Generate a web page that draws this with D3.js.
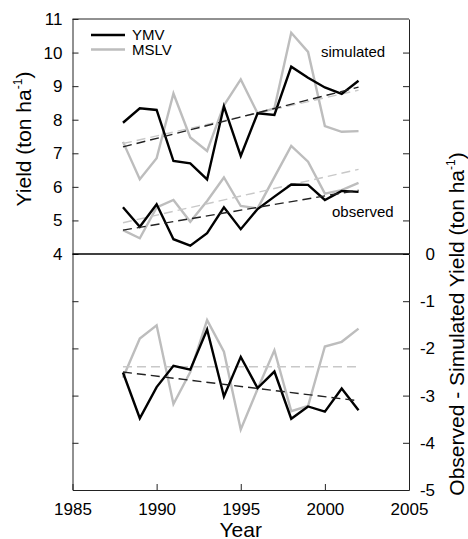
<!DOCTYPE html>
<html>
<head>
<meta charset="utf-8">
<script src="https://cdn.jsdelivr.net/npm/d3@7"></script>
<style>
  body { margin: 0; background: #fff; }
  svg text { font-family: "Liberation Sans", Arial, sans-serif; fill: #000; }
</style>
</head>
<body>
<svg id="canvas" width="468" height="539"></svg>
<script>
// years of the record
var years = [1988, 1989, 1990, 1991, 1992, 1993, 1994, 1995, 1996, 1997, 1998, 1999, 2000, 2001, 2002];

// top panel, yield (ton/ha)
var simYMV  = [7.91, 8.34, 8.29, 6.77, 6.70, 6.22, 8.40, 6.92, 8.19, 8.14, 9.58, 9.25, 8.96, 8.77, 9.16];
var simMSLV = [7.34, 6.23, 6.85, 8.78, 7.47, 7.07, 8.43, 9.20, 8.19, 8.34, 10.59, 10.02, 7.81, 7.64, 7.66];
var obsYMV  = [5.39, 4.81, 5.48, 4.44, 4.25, 4.62, 5.39, 4.74, 5.34, 5.71, 6.07, 6.06, 5.61, 5.88, 5.85];
var obsMSLV = [4.71, 4.47, 5.39, 5.61, 4.96, 5.58, 6.28, 5.43, 5.36, 6.29, 7.22, 6.75, 5.80, 5.90, 6.12];

// bottom panel, observed - simulated
var diffYMV  = [-2.51, -3.48, -2.82, -2.37, -2.45, -1.60, -3.02, -2.18, -2.84, -2.49, -3.49, -3.23, -3.34, -2.85, -3.31];
var diffMSLV = [-2.62, -1.79, -1.51, -3.18, -2.50, -1.40, -2.07, -3.72, -2.86, -2.04, -3.33, -3.22, -1.96, -1.86, -1.58];

// trend lines, value at 1988 and 2002
var trendYears = [1988, 2002];
var simTrendYMV   = [7.19, 8.97];
var simTrendMSLV  = [7.29, 8.88];
var obsTrendYMV   = [4.71, 5.90];
var obsTrendMSLV  = [4.93, 6.52];
var diffTrendYMV  = [-2.50, -3.11];
var diffTrendMSLV = [-2.39, -2.39];

var xTicks = [1985, 1990, 1995, 2000, 2005];
var topTicks = [4, 5, 6, 7, 8, 9, 10, 11];
var botTicks = [-5, -4, -3, -2, -1, 0];

var svg = d3.select("#canvas");
var mLeft = 72.5, mRight = 409, mTop = 19, mMid = 254, mBottom = 490;

var x = d3.scaleLinear().domain([1985, 2005]).range([mLeft, mRight]);
var yTop = d3.scaleLinear().domain([4, 11]).range([mMid, mTop]);
var yBot = d3.scaleLinear().domain([-5, 0]).range([mBottom, mMid]);

var fmt = function(d) { return String(d); };

function styleAxis(g) {
	g.selectAll("path").attr("stroke", "#222").attr("stroke-width", 1);
	g.selectAll("line").attr("stroke", "#222").attr("stroke-width", 1);
	g.selectAll("text").attr("font-size", 17).attr("fill", "#000")
		.style("font-family", "Liberation Sans, Arial, sans-serif");
}

// left axis, top panel
svg.append("g")
	.attr("transform", "translate(" + mLeft + ",0)")
	.call(d3.axisLeft(yTop).tickValues(topTicks).tickSizeInner(-6).tickSizeOuter(0).tickPadding(10).tickFormat(fmt))
	.call(styleAxis);
// left side ticks, bottom panel
svg.append("g")
	.attr("transform", "translate(" + mLeft + ",0)")
	.call(d3.axisLeft(yBot).tickValues([-4, -3, -2, -1]).tickSizeInner(-6).tickSizeOuter(0).tickFormat(""))
	.call(styleAxis);
// right side ticks, top panel
svg.append("g")
	.attr("transform", "translate(" + mRight + ",0)")
	.call(d3.axisRight(yTop).tickValues([5, 6, 7, 8, 9, 10]).tickSizeInner(-6).tickSizeOuter(0).tickFormat(""))
	.call(styleAxis);
// right axis, bottom panel
var rAx = svg.append("g")
	.attr("transform", "translate(" + mRight + ",0)")
	.call(d3.axisRight(yBot).tickValues(botTicks).tickSizeInner(-6).tickSizeOuter(0).tickPadding(26).tickFormat(fmt))
	.call(styleAxis);
rAx.selectAll("text").attr("text-anchor", "end");

// x axis
svg.append("g")
	.attr("transform", "translate(0," + mBottom + ")")
	.call(d3.axisBottom(x).tickValues(xTicks).tickSizeInner(-6).tickSizeOuter(0).tickPadding(13).tickFormat(fmt))
	.call(styleAxis);

// top border and zero line
svg.append("line").attr("x1", mLeft).attr("x2", mRight).attr("y1", mTop).attr("y2", mTop)
	.attr("stroke", "#222").attr("stroke-width", 1);
svg.append("line").attr("x1", mLeft).attr("x2", mRight).attr("y1", mMid).attr("y2", mMid)
	.attr("stroke", "#000").attr("stroke-width", 1.6);

var black = "#000", gray = "#bdbdbd";

function series(vals, yScale, color, width) {
	var line = d3.line()
		.x(function(d, i) { return x(years[i]); })
		.y(function(d) { return yScale(d); });
	svg.append("path").datum(vals)
		.attr("d", line)
		.attr("fill", "none")
		.attr("stroke", color)
		.attr("stroke-width", width)
		.attr("stroke-linejoin", "miter");
}

function trend(vals, yScale, color) {
	var line = d3.line()
		.x(function(d, i) { return x(trendYears[i]); })
		.y(function(d) { return yScale(d); });
	svg.append("path").datum(vals)
		.attr("d", line)
		.attr("fill", "none")
		.attr("stroke", color)
		.attr("stroke-width", 1.4)
		.attr("stroke-dasharray", "9,5");
}

series(simMSLV, yTop, gray, 2.4);
series(obsMSLV, yTop, gray, 2.4);
series(diffMSLV, yBot, gray, 2.4);
trend(simTrendMSLV, yTop, "#c8c8c8");
trend(obsTrendMSLV, yTop, "#c8c8c8");
trend(diffTrendMSLV, yBot, "#c8c8c8");
series(simYMV, yTop, black, 2.4);
series(obsYMV, yTop, black, 2.4);
series(diffYMV, yBot, black, 2.4);
trend(simTrendYMV, yTop, "#222");
trend(obsTrendYMV, yTop, "#222");
trend(diffTrendYMV, yBot, "#222");

// legend
var legend = [{name: "YMV", color: black, y: 35}, {name: "MSLV", color: gray, y: 49.5}];
legend.forEach(function(l) {
	svg.append("line").attr("x1", 91).attr("x2", 125).attr("y1", l.y).attr("y2", l.y)
		.attr("stroke", l.color).attr("stroke-width", 2.4);
	svg.append("text").attr("x", 132).attr("y", l.y + 5).attr("font-size", 15).text(l.name);
});

svg.append("text").attr("x", 321).attr("y", 57).attr("font-size", 15).text("simulated");
svg.append("text").attr("x", 332).attr("y", 217).attr("font-size", 15).text("observed");

// axis titles
svg.append("text").attr("x", (mLeft + mRight) / 2).attr("y", 536.5)
	.attr("text-anchor", "middle").attr("font-size", 21).text("Year");

var yl = svg.append("text")
	.attr("transform", "translate(31,139) rotate(-90)")
	.attr("text-anchor", "middle").attr("font-size", 21);
yl.append("tspan").text("Yield (ton ha");
yl.append("tspan").attr("font-size", 12).attr("dy", -9).text("-1");
yl.append("tspan").attr("dy", 9).text(")");

var yr = svg.append("text")
	.attr("transform", "translate(464,324) rotate(-90)")
	.attr("text-anchor", "middle").attr("font-size", 21);
yr.append("tspan").text("Observed - Simulated Yield (ton ha");
yr.append("tspan").attr("font-size", 12).attr("dy", -9).text("-1");
yr.append("tspan").attr("dy", 9).text(")");
</script>
</body>
</html>
